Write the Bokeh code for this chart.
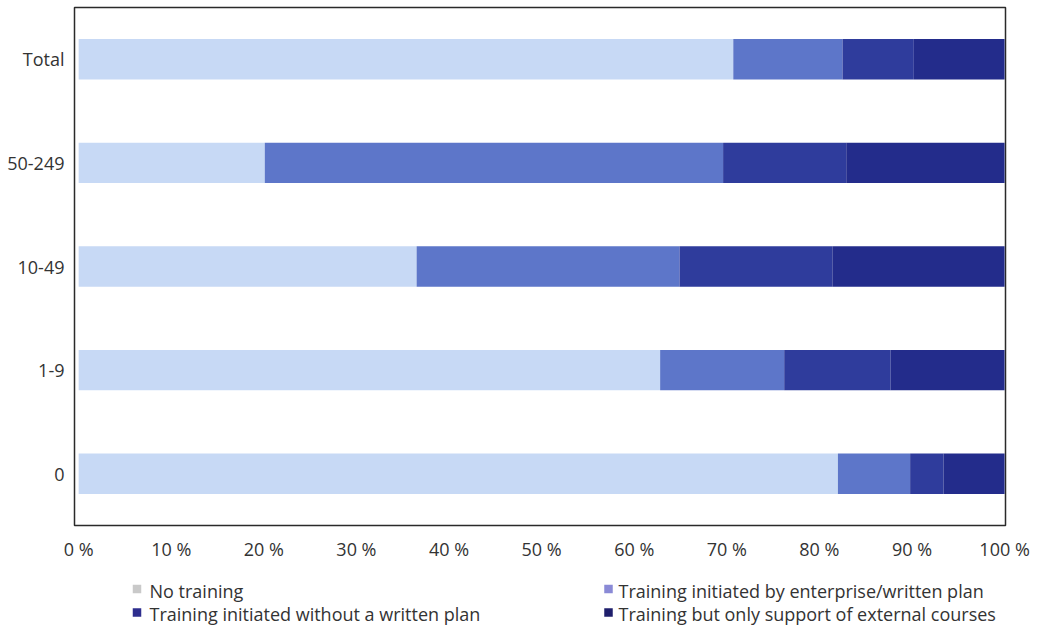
from bokeh.plotting import figure
from bokeh.layouts import column
from bokeh.models import FactorRange, Range1d, FixedTicker
from bokeh.core.properties import value
from bokeh.embed import file_html
from bokeh.resources import INLINE

# Enterprise size classes, top to bottom
categories = ["Total", "50-249", "10-49", "1-9", "0"]

# Shares of enterprises (%) per training type
no_training = [70.7, 20.1, 36.5, 62.8, 82.0]
enterprise_plan = [11.8, 49.5, 28.4, 13.4, 7.8]
without_plan = [7.7, 13.3, 16.5, 11.5, 3.6]
external_only = [9.8, 17.1, 18.6, 12.3, 6.6]

series_names = [
    "No training",
    "Training initiated by enterprise/written plan",
    "Training initiated without a written plan",
    "Training but only support of external courses",
]
bar_colors = ["#c7d9f5", "#5d76c9", "#2f3c9c", "#232c8b"]
legend_colors = ["#c9c9c9", "#8a8ad6", "#2e2e8e", "#1f1f6c"]

tick_values = [0, 10, 20, 30, 40, 50, 60, 70, 80, 90, 100]
tick_labels = {v: f"{v} %" for v in tick_values}

FONT = "Open Sans"
TEXT_COLOR = "#333333"
BORDER_L, BORDER_R = 74, 36
MAIN_H, LEG_H = 563, 65

p = figure(
    width=1041, height=MAIN_H,
    y_range=FactorRange(*reversed(categories), range_padding=0),
    x_range=Range1d(-0.45, 100.1),
    output_backend="svg", toolbar_location=None,
    min_border_left=BORDER_L, min_border_right=BORDER_R, min_border_top=7, min_border_bottom=20,
)

data = dict(cat=categories, a=no_training, b=enterprise_plan, c=without_plan, d=external_only)
p.hbar_stack(["a", "b", "c", "d"], y="cat", height=0.39, color=bar_colors,
             line_color=None, source=data)

p.outline_line_color = "#2a2a2a"
p.outline_line_width = 1.5
p.background_fill_color = "white"
p.border_fill_color = "white"
p.xgrid.visible = False
p.ygrid.visible = False

xa = p.xaxis[0]
xa.ticker = FixedTicker(ticks=tick_values)
xa.major_label_overrides = tick_labels
xa.axis_line_color = None
xa.major_tick_line_color = None
xa.minor_tick_line_color = None
xa.major_label_standoff = 5
xa.major_label_text_font = FONT
xa.major_label_text_font_size = "18px"
xa.major_label_text_color = TEXT_COLOR

ya = p.yaxis[0]
ya.axis_line_color = None
ya.major_tick_line_color = None
ya.minor_tick_line_color = None
ya.major_label_standoff = 4
ya.major_label_text_font = FONT
ya.major_label_text_font_size = "18px"
ya.major_label_text_color = TEXT_COLOR

# Legend strip below the chart; its ranges are in page pixels
leg = figure(
    width=1041, height=LEG_H,
    x_range=Range1d(BORDER_L, 1041 - BORDER_R), y_range=Range1d(LEG_H, 0),
    output_backend="svg", toolbar_location=None,
    min_border_left=BORDER_L, min_border_right=BORDER_R, min_border_top=0, min_border_bottom=0,
)
leg.axis.visible = False
leg.grid.visible = False
leg.outline_line_color = None
leg.background_fill_color = "white"
leg.border_fill_color = "white"

sq_x = [136.5, 608.0, 136.5, 608.0]
sq_y = [25.5, 25.5, 49.0, 49.0]
txt_x = [149, 618, 149, 618]
leg.rect(x=sq_x, y=sq_y, width=8.5, height=8.5, color=legend_colors, line_color=None)
leg.text(x=txt_x, y=[s + 1.5 for s in sq_y], text=series_names,
         text_font=value(FONT), text_font_size="18px", text_color=TEXT_COLOR,
         text_baseline="middle", text_align="left")

layout = column(p, leg, spacing=0)
open("out.html", "w").write(file_html(layout, INLINE))
